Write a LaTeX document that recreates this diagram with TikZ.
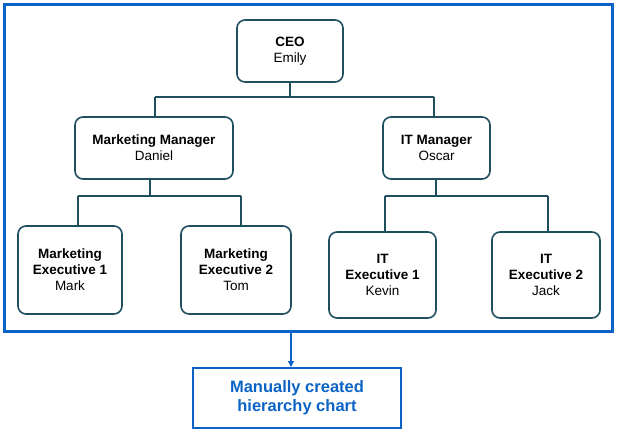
\documentclass[tikz,border=0pt]{standalone}
\usepackage{fontspec}
\setmainfont{Liberation Sans}
\usetikzlibrary{arrows.meta}
\definecolor{bx}{HTML}{1F4E5F}
\definecolor{bl}{HTML}{0B63C5}
\begin{document}
\begin{tikzpicture}[x=1pt,y=-1pt,
  pbox/.style={draw=bx,line width=1.6pt,rounded corners=8pt,align=center,inner sep=1pt,font=\fontsize{13.5}{16}\selectfont},
  conn/.style={draw=bx,line width=1.4pt}]
\useasboundingbox (0,0) rectangle (621,446);
\node[draw=bl,line width=2.8pt,minimum width=608pt,minimum height=327pt,anchor=north west] (frame) at (3,3) {};
\node[pbox,minimum width=106pt,minimum height=62pt] (ceo) at (290,51) {\textbf{CEO}\\Emily};
\node[pbox,minimum width=158pt,minimum height=62pt] (mm) at (154,148) {\textbf{Marketing Manager}\\Daniel};
\node[pbox,minimum width=107pt,minimum height=62pt] (itm) at (436.5,148) {\textbf{IT Manager}\\Oscar};
\node[pbox,minimum width=104pt,minimum height=88pt] (me1) at (70,270) {\textbf{Marketing}\\\textbf{Executive 1}\\Mark};
\node[pbox,minimum width=110pt,minimum height=88pt] (me2) at (236,270) {\textbf{Marketing}\\\textbf{Executive 2}\\Tom};
\node[pbox,minimum width=107pt,minimum height=86pt] (ie1) at (382.5,275) {\textbf{IT}\\\textbf{Executive 1}\\Kevin};
\node[pbox,minimum width=108pt,minimum height=86pt] (ie2) at (546,275) {\textbf{IT}\\\textbf{Executive 2}\\Jack};
\coordinate (j1) at (290,97);
\draw[conn] (ceo.south) -- (j1) (155,97) -- (434,97) (155,97) -- (155,117) (434,97) -- (434,117);
\draw[conn] (150,179) -- (150,196) (78,196) -- (241,196) (78,196) -- (78,226) (241,196) -- (241,226);
\draw[conn] (436,179) -- (436,196) (385,196) -- (548,196) (385,196) -- (385,232) (548,196) -- (548,232);
\node[draw=bl,line width=1.6pt,minimum width=208pt,minimum height=60pt,align=center,text=bl,font=\bfseries\fontsize{16.5}{19}\selectfont] (lbl) at (297,398) {Manually created\\hierarchy chart};
\draw[-{Triangle[length=6pt,width=6pt]},draw=bl,fill=bl,line width=1.2pt] (291,331) -- (291,367);
\end{tikzpicture}
\end{document}
